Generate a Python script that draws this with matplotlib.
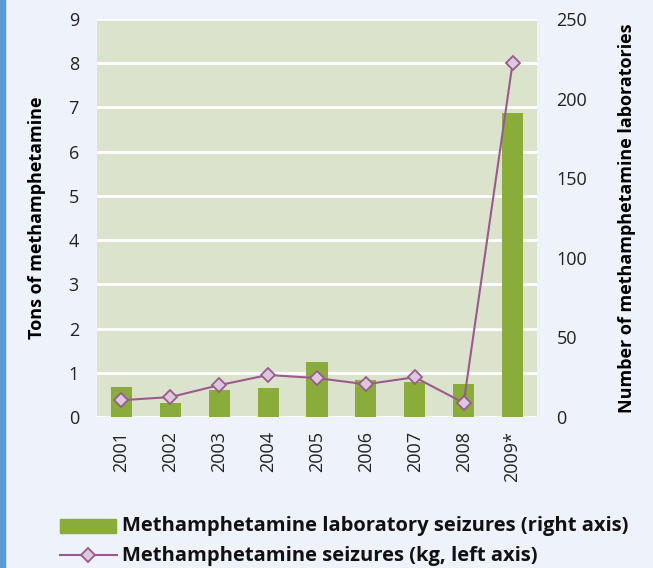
import matplotlib.pyplot as plt
from matplotlib.patches import Rectangle
from matplotlib.lines import Line2D

years = ['2001', '2002', '2003', '2004', '2005', '2006', '2007', '2008', '2009*']
labs = [19, 9, 17, 18, 34.5, 23, 22, 21, 191]              # laboratories, right axis
tons = [0.38, 0.45, 0.72, 0.95, 0.88, 0.74, 0.9, 0.32, 8.0]  # tons, left axis

plt.rcParams['font.family'] = ['Open Sans', 'DejaVu Sans']

bg = '#eef2fa'
fig = plt.figure(figsize=(6.53, 5.68), dpi=100, facecolor=bg)
ax = fig.add_axes([97/653, 1 - 417/568, 440/653, 398/568])
ax.set_facecolor('#dce3cd')
ax2 = ax.twinx()

x = list(range(len(years)))
ax2.bar(x, labs, width=0.43, color='#8aac3b', zorder=2)
ax2.set_ylim(0, 250)
ax2.set_yticks([0, 50, 100, 150, 200, 250])

ax.set_ylim(0, 9)
ax.set_yticks(range(10))
ax.set_xlim(-0.5, 8.5)
ax.set_xticks(x)
ax.set_xticklabels(years, rotation=90)
ax.grid(axis='y', color='white', linewidth=2)
ax.set_axisbelow(True)

# line drawn on a third overlay so it sits above the bars
ax3 = ax.twinx()
ax3.set_ylim(0, 9)
ax3.axis('off')
ax3.plot(x, tons, color='#9b5a8e', linewidth=1.5, marker='D', markersize=7,
         markerfacecolor='#dcc8dc', markeredgecolor='#9b5a8e', markeredgewidth=1.3, zorder=3)

for a in (ax, ax2):
    for s in a.spines.values():
        s.set_visible(False)
    a.tick_params(length=0, labelsize=13, colors='#222222')
ax.tick_params(axis='y', pad=13)
ax.tick_params(axis='x', pad=10)
ax2.tick_params(axis='y', pad=14)

ax.set_ylabel('Tons of methamphetamine', fontsize=13, fontweight='bold', labelpad=16)
ax2.set_ylabel('Number of methamphetamine laboratories', fontsize=13, fontweight='bold', labelpad=22)

# left blue strip
fig.patches.append(Rectangle((0, 0), 5/653, 1, transform=fig.transFigure,
                             color='#5b9bd5', zorder=0))

# legend
fig.patches.append(Rectangle((60/653, 1 - 533/568), 56/653, 14/568,
                             transform=fig.transFigure, color='#8aac3b'))
fig.text(122/653, 1 - 526/568, 'Methamphetamine laboratory seizures (right axis)',
         fontsize=14.5, fontweight='bold', va='center', color='#111111')
fig.lines.append(Line2D([60/653, 117/653], [1 - 555/568, 1 - 555/568],
                        transform=fig.transFigure, color='#9b5a8e', linewidth=1.5))
fig.lines.append(Line2D([88/653], [1 - 555/568], transform=fig.transFigure,
                        marker='D', markersize=7, markerfacecolor='#dcc8dc',
                        markeredgecolor='#9b5a8e', markeredgewidth=1.3))
fig.text(122/653, 1 - 556/568, 'Methamphetamine seizures (kg, left axis)',
         fontsize=14.5, fontweight='bold', va='center', color='#111111')

fig.savefig('out.png', dpi=100, facecolor=bg)
